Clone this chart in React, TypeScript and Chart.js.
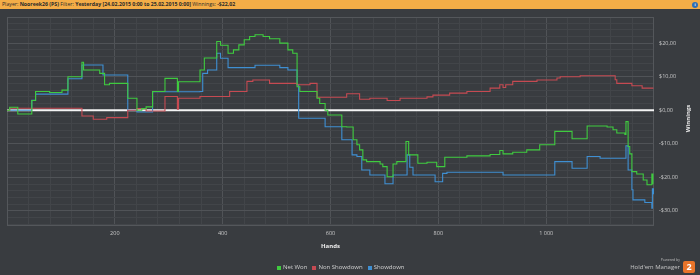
import React, { useEffect, useRef } from "react";
import { Chart, registerables } from "chart.js";

Chart.register(...registerables);

// [hand, cumulative winnings $] step points
const netWon: [number, number][] = [
  [0, 0], [5, 0.9], [20, -1.1], [46, 2.9], [53, 5.6], [79, 5.3], [102, 6], [113, 10], [139, 14.3], [142, 12],
  [172, 11], [181, 7.6], [190, 8], [224, 3.6], [241, 0], [250, 0.5], [258, 1], [270, 5.6], [293, 9.5], [316, 5.6],
  [318, 8.5], [358, 12], [366, 15.6], [389, 20.5], [396, 19.4], [410, 17], [420, 18], [430, 19.5], [440, 21], [450, 22],
  [460, 22.5], [475, 22], [487, 21.3], [506, 20], [521, 18], [530, 17], [538, 7], [543, 5.6], [575, 3.6], [580, 2],
  [590, 0], [595, -1.4], [621, -4.9], [630, -5], [642, -8.8], [649, -10.3], [654, -11.8], [660, -14.8], [667, -15.3], [692, -16],
  [697, -16.8], [705, -19.8], [716, -16], [723, -15.3], [740, -9.3], [745, -13.3], [762, -15.8], [779, -15.5], [797, -16.8], [812, -14],
  [853, -13.6], [896, -13.2], [914, -12], [920, -13], [938, -12.5], [964, -11.8], [988, -10.3], [1016, -6.3], [1048, -8.5], [1076, -4.7],
  [1113, -5], [1124, -5.8], [1131, -6.8], [1146, -7.2], [1148, -3.4], [1152, -10.8], [1155, -13], [1159, -18.3], [1168, -19], [1180, -20.8],
  [1187, -22.2], [1196, -19], [1198, -22.02],
];

const nonShowdown: [number, number][] = [
  [0, 0], [5, 0.6], [139, -1.7], [160, -2.7], [185, -2.2], [224, 0], [241, 0.5], [258, -0.2], [293, 4.1], [316, 0.3],
  [318, 3.6], [358, 4.1], [413, 5.6], [445, 8.6], [456, 9], [487, 8], [538, 7.6], [562, 8], [575, 3.9], [630, 4.9],
  [654, 3.3], [673, 3.6], [705, 2.9], [729, 3.6], [779, 4], [790, 4.5], [821, 5.1], [853, 5.6], [896, 6.6], [914, 7.6],
  [920, 6.8], [925, 7.6], [938, 8.6], [983, 9], [1020, 9.6], [1026, 10], [1063, 10.3], [1128, 9.1], [1131, 8], [1159, 7.3],
  [1178, 6.6], [1199, 6.6],
];

const showdown: [number, number][] = [
  [0, 0], [46, 3], [53, 4.8], [113, 9.4], [139, 13.5], [178, 10.5], [224, 0], [241, -0.5], [270, 5.5], [358, 5.6],
  [363, 11], [372, 12], [389, 17], [396, 15.5], [410, 12.7], [460, 13.4], [506, 12.7], [521, 12], [538, 7.6], [541, -2.4],
  [590, -4.9], [621, -8.8], [640, -13.3], [649, -13.8], [658, -17.8], [673, -19.3], [701, -21.9], [716, -19.3], [742, -13.3], [747, -17],
  [753, -19.3], [794, -21.3], [808, -18.8], [816, -18.5], [920, -19.3], [1016, -15.3], [1048, -17.3], [1076, -13.8], [1100, -14.3], [1148, -10.6],
  [1152, -17.8], [1159, -23.7], [1161, -26.7], [1183, -27.5], [1196, -29.2], [1197, -23.4], [1199, -25],
];

const seriesLabels = ["Net Won", "Non Showdown", "Showdown"];
const seriesColors = ["#3fcb3f", "#c64a52", "#3f8fd2"];
const xLabeledTicks = [200, 400, 600, 800, 1000];
const yLabeledTicks = [-30, -20, -10, 0, 10, 20];
const xRange = [0, 1200];
const yRange = [-34.5, 27.8];
const xMinorStep = 40;
const yMinorStep = 2;

const FONT = "'Open Sans', 'DejaVu Sans', sans-serif";

function fmtMoney(v: number) {
  return (v < 0 ? "-$" : "$") + Math.abs(v) + ",00";
}
function fmtHands(v: number) {
  return v >= 1000 ? Math.floor(v / 1000) + " " + String(v % 1000).padStart(3, "0") : String(v);
}

const framePlugin = {
  id: "frame",
  beforeDatasetsDraw(chart: any) {
    const { ctx, chartArea: a, scales } = chart;
    ctx.save();
    ctx.strokeStyle = "#54575b";
    ctx.lineWidth = 1;
    ctx.strokeRect(a.left + 0.5, a.top + 0.5, a.right - a.left - 1, a.bottom - a.top - 1);
    const y0 = scales.y.getPixelForValue(0);
    ctx.strokeStyle = "#f4f4f4";
    ctx.lineWidth = 2;
    ctx.beginPath();
    ctx.moveTo(a.left, y0);
    ctx.lineTo(a.right, y0);
    ctx.stroke();
    ctx.restore();
  },
  afterDraw(chart: any) {
    const { ctx, chartArea: a } = chart;
    ctx.save();
    ctx.translate(688, (a.top + a.bottom) / 2 - 3);
    ctx.rotate(-Math.PI / 2);
    ctx.fillStyle = "#e8e8e8";
    ctx.font = "bold 6px " + FONT;
    ctx.textAlign = "center";
    ctx.textBaseline = "middle";
    ctx.fillText("Winnings", 0, 0);
    ctx.restore();
  },
};

export default function App() {
  const ref = useRef<HTMLCanvasElement | null>(null);

  useEffect(() => {
    if (!ref.current) return;
    const series = [netWon, nonShowdown, showdown];
    const chart = new Chart(ref.current, {
      type: "line",
      data: {
        datasets: series.map((s, i) => ({
          label: seriesLabels[i],
          data: s.map(([x, y]) => ({ x, y })),
          borderColor: seriesColors[i],
          backgroundColor: seriesColors[i],
          borderWidth: 1.1,
          pointRadius: 0,
          stepped: true,
          fill: false,
        })),
      },
      options: {
        animation: false,
        responsive: false,
        maintainAspectRatio: false,
        layout: { padding: { left: 7, top: 17, right: 0, bottom: 0 } },
        plugins: { legend: { display: false }, tooltip: { enabled: false } },
        scales: {
          x: {
            type: "linear",
            min: xRange[0],
            max: xRange[1],
            afterFit: (s: any) => { s.height = 49; },
            afterBuildTicks: (s: any) => {
              const t = [];
              for (let v = xRange[0] + xMinorStep; v < xRange[1]; v += xMinorStep) t.push({ value: v });
              s.ticks = t;
            },
            grid: {
              drawTicks: false,
              color: (c: any) => (c.tick && xLabeledTicks.includes(c.tick.value) ? "#505357" : "#424549"),
              lineWidth: 1,
            },
            border: { display: false },
            ticks: {
              autoSkip: false,
              maxRotation: 0,
              padding: 4,
              color: "#c9c9c9",
              font: { family: FONT, size: 5.5 },
              callback: (v: any) => (xLabeledTicks.includes(Number(v)) ? fmtHands(Number(v)) : ""),
            },
            title: {
              display: true,
              text: "Hands",
              color: "#eeeeee",
              font: { family: FONT, size: 6, weight: "bold" },
              padding: { top: 0, bottom: 25 },
            },
          },
          y: {
            type: "linear",
            position: "right",
            min: yRange[0],
            max: yRange[1],
            afterFit: (s: any) => { s.width = 46; },
            afterBuildTicks: (s: any) => {
              const t = [];
              for (let v = -34; v < yRange[1]; v += yMinorStep) t.push({ value: v });
              s.ticks = t;
            },
            grid: {
              drawTicks: false,
              color: (c: any) => (c.tick && yLabeledTicks.includes(c.tick.value) ? "#505357" : "#424549"),
              lineWidth: 1,
            },
            border: { display: false },
            ticks: {
              autoSkip: false,
              padding: 5,
              color: "#c9c9c9",
              font: { family: FONT, size: 5.5 },
              callback: (v: any) => (yLabeledTicks.includes(Number(v)) ? fmtMoney(Number(v)) : ""),
            },
          },
        },
      },
      plugins: [framePlugin],
    } as any);
    return () => chart.destroy();
  }, []);

  const legendItem = (i: number) => (
    <span key={i} style={{ display: "inline-flex", alignItems: "center", marginRight: i < 2 ? 5 : 0 }}>
      <span style={{ width: 4, height: 4, background: seriesColors[i], display: "inline-block", marginRight: 2 }} />
      {seriesLabels[i]}
    </span>
  );

  return (
    <div style={{ position: "fixed", left: 0, top: 0, width: 700, height: 275, background: "#393c40", overflow: "hidden", fontFamily: FONT }}>
      <canvas ref={ref} width={700} height={275} style={{ position: "absolute", left: 0, top: 0, width: 700, height: 275 }} />
      <div style={{ position: "absolute", left: 0, top: 0, width: 700, height: 9, background: "#f4ad47", color: "#2a2a2a", fontSize: 5.2, lineHeight: "9px", paddingLeft: 2, whiteSpace: "nowrap", boxSizing: "border-box" }}>
        Player: <b>Nooreek26 (PS)</b> Filter: <b>Yesterday [24.02.2015 0:00 to 25.02.2015 0:00]</b> Winnings: <b>-$22,02</b>
        <span style={{ position: "absolute", left: 692, top: 1.5, width: 6, height: 6, borderRadius: 3, background: "#2f6fb5", color: "#fff", fontSize: 4, lineHeight: "6px", textAlign: "center", fontWeight: "bold" }}>i</span>
      </div>
      <div style={{ position: "absolute", left: 277, top: 264, color: "#cfcfcf", fontSize: 6, lineHeight: "7px", whiteSpace: "nowrap", display: "flex" }}>
        {[0, 1, 2].map(legendItem)}
      </div>
      <div style={{ position: "absolute", right: 20, top: 258, color: "#bdbdbd", fontSize: 3.5, lineHeight: "4px", textAlign: "right", whiteSpace: "nowrap" }}>Powered by</div>
      <div style={{ position: "absolute", right: 20, top: 264, color: "#c4c4c4", fontSize: 6, lineHeight: "7px", textAlign: "right", whiteSpace: "nowrap" }}>Hold'em Manager</div>
      <div style={{ position: "absolute", left: 683, top: 261, width: 12, height: 12, borderRadius: 2, background: "#e8742a", color: "#fff", fontSize: 9, lineHeight: "12px", textAlign: "center", fontWeight: "bold" }}>2</div>
    </div>
  );
}
